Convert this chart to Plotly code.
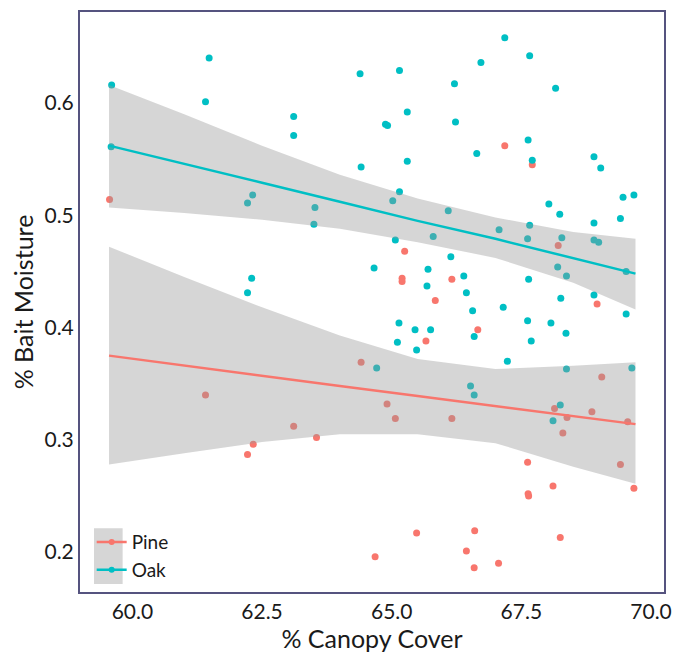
import plotly.graph_objects as go

# ---- data ----
oak_x = [59.60, 59.59, 61.48, 61.41, 63.11, 63.11, 62.22, 62.32, 63.52, 63.50,
         62.30, 62.22, 64.39, 64.41, 65.15, 64.88, 64.92, 65.30, 65.30, 65.15,
         65.02, 65.07, 64.66, 66.21, 66.23, 66.72, 66.64, 67.18, 67.66, 68.16,
         67.63, 67.71, 68.90, 69.03, 69.46, 69.67, 69.41, 68.90, 68.03, 68.24,
         67.66, 67.62, 67.07, 66.09, 65.80, 68.28, 68.90, 68.99, 66.14, 65.70,
         66.39, 68.20, 68.37, 67.64, 69.52, 65.68, 66.44, 68.90, 68.26, 66.56,
         67.15, 69.52, 65.14, 65.45, 65.75, 67.62, 68.07, 68.36, 66.59, 65.11,
         67.69, 65.48, 67.23, 64.71, 68.37, 69.63, 66.52, 66.59, 68.25, 68.11]
oak_y = [0.616, 0.561, 0.640, 0.601, 0.588, 0.571, 0.511, 0.518, 0.507, 0.492,
         0.444, 0.431, 0.626, 0.543, 0.629, 0.581, 0.580, 0.592, 0.548, 0.521,
         0.513, 0.478, 0.453, 0.617, 0.583, 0.636, 0.555, 0.658, 0.642, 0.613,
         0.567, 0.549, 0.552, 0.542, 0.516, 0.518, 0.497, 0.493, 0.510, 0.501,
         0.491, 0.479, 0.487, 0.504, 0.481, 0.480, 0.478, 0.476, 0.463, 0.452,
         0.446, 0.454, 0.446, 0.443, 0.450, 0.437, 0.431, 0.429, 0.426, 0.415,
         0.418, 0.412, 0.404, 0.398, 0.398, 0.406, 0.404, 0.395, 0.392, 0.387,
         0.388, 0.380, 0.370, 0.364, 0.363, 0.364, 0.348, 0.340, 0.331, 0.317]

pine_x = [59.56, 61.41, 63.11, 63.55, 62.33, 62.22, 64.41, 64.91, 65.07, 65.25,
          65.20, 65.20, 65.84, 65.66, 66.16, 66.66, 66.16, 67.18, 67.71, 68.21,
          68.96, 69.05, 68.86, 68.14, 68.38, 68.30, 69.55, 67.62, 67.63, 67.64,
          68.11, 69.41, 69.67, 65.48, 64.68, 66.60, 66.44, 66.59, 67.06, 68.25]
pine_y = [0.514, 0.340, 0.312, 0.302, 0.296, 0.287, 0.369, 0.332, 0.319, 0.468,
          0.444, 0.441, 0.424, 0.388, 0.443, 0.398, 0.319, 0.562, 0.545, 0.473,
          0.421, 0.356, 0.325, 0.328, 0.320, 0.306, 0.316, 0.280, 0.252, 0.250,
          0.259, 0.278, 0.257, 0.217, 0.196, 0.219, 0.201, 0.186, 0.190, 0.213]

# fitted lines and confidence bands
fit_x = [59.55, 61.0, 62.5, 64.0, 65.5, 67.0, 68.5, 69.7]
oak_fit = [0.562, 0.546, 0.529, 0.512, 0.495, 0.479, 0.462, 0.448]
oak_hi = [0.616, 0.590, 0.562, 0.536, 0.515, 0.498, 0.485, 0.479]
oak_lo = [0.507, 0.502, 0.496, 0.488, 0.476, 0.462, 0.440, 0.416]
pine_fit = [0.375, 0.366, 0.357, 0.348, 0.339, 0.330, 0.321, 0.314]
pine_hi = [0.472, 0.445, 0.418, 0.393, 0.372, 0.363, 0.366, 0.369]
pine_lo = [0.278, 0.288, 0.298, 0.305, 0.305, 0.297, 0.276, 0.261]

x_ticks = [60.0, 62.5, 65.0, 67.5, 70.0]
y_ticks = [0.2, 0.3, 0.4, 0.5, 0.6]

PINE = "#F8766D"
OAK = "#00BFC4"
BAND = "rgba(153,153,153,0.4)"
FONT = "Lato"
TXT = "#1a1a1a"

fig = go.Figure()

# points
fig.add_trace(go.Scatter(x=pine_x, y=pine_y, mode="markers",
                         marker=dict(color=PINE, size=7), showlegend=False))
fig.add_trace(go.Scatter(x=oak_x, y=oak_y, mode="markers",
                         marker=dict(color=OAK, size=7), showlegend=False))

# bands
for hi, lo in ((pine_hi, pine_lo), (oak_hi, oak_lo)):
    fig.add_trace(go.Scatter(x=fit_x + fit_x[::-1], y=hi + lo[::-1],
                             fill="toself", fillcolor=BAND, mode="lines",
                             line=dict(width=0), hoverinfo="skip",
                             showlegend=False))

# fitted lines
fig.add_trace(go.Scatter(x=fit_x, y=pine_fit, mode="lines",
                         line=dict(color=PINE, width=2.5), showlegend=False))
fig.add_trace(go.Scatter(x=fit_x, y=oak_fit, mode="lines",
                         line=dict(color=OAK, width=2.5), showlegend=False))

# legend entries
fig.add_trace(go.Scatter(x=[None], y=[None], mode="lines+markers", name="Pine",
                         line=dict(color=PINE, width=2.5),
                         marker=dict(color=PINE, size=6)))
fig.add_trace(go.Scatter(x=[None], y=[None], mode="lines+markers", name="Oak",
                         line=dict(color=OAK, width=2.5),
                         marker=dict(color=OAK, size=6)))

# grey legend key background
fig.add_shape(type="rect", xref="paper", yref="paper",
              x0=0.024, x1=0.073, y0=0.014, y1=0.11,
              fillcolor="#D6D6D6", line=dict(width=0), layer="below")

frame = "#55537F"
fig.update_layout(
    width=682, height=658,
    margin=dict(l=80, r=12, t=10, b=66),
    paper_bgcolor="white", plot_bgcolor="white",
    font=dict(family=FONT, color=TXT),
    showlegend=True,
    legend=dict(x=0.02, y=0.005, xanchor="left", yanchor="bottom",
                bgcolor="rgba(0,0,0,0)", font=dict(size=19, family=FONT, color=TXT),
                itemwidth=30, tracegroupgap=0),
    xaxis=dict(range=[58.99, 70.25], tickvals=x_ticks,
               ticktext=[f"{v:.1f}" for v in x_ticks],
               showgrid=False, zeroline=False, ticks="",
               showline=True, mirror=True, linecolor=frame, linewidth=2,
               tickfont=dict(size=21, color=TXT),
               title=dict(text="% Canopy Cover", font=dict(size=25, color=TXT), standoff=4)),
    yaxis=dict(range=[0.1645, 0.681], tickvals=y_ticks,
               ticktext=[f"{v:.1f}" for v in y_ticks],
               showgrid=False, zeroline=False, ticks="",
               showline=True, mirror=True, linecolor=frame, linewidth=2,
               tickfont=dict(size=21, color=TXT),
               title=dict(text="% Bait Moisture", font=dict(size=25, color=TXT), standoff=4)),
)

fig.write_html("out.html")
